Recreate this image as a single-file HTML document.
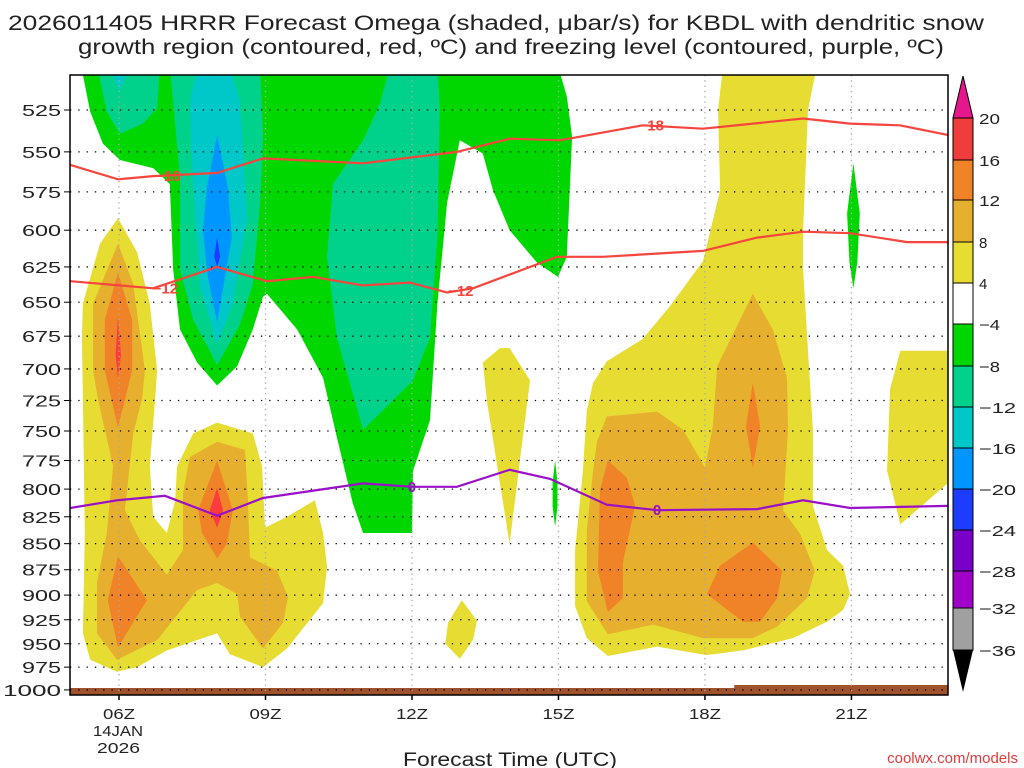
<!DOCTYPE html>
<html><head><meta charset="utf-8"><style>
html,body{margin:0;padding:0;background:#fff;width:1024px;height:768px;overflow:hidden}
svg text{font-family:"Liberation Sans",sans-serif}
</style></head><body>
<svg id="chart" width="1024" height="768" viewBox="0 0 1024 768" xmlns="http://www.w3.org/2000/svg">
<defs><clipPath id="plotclip"><rect x="70" y="75" width="878" height="620"/></clipPath></defs>
<text x="8" y="30" font-size="21" textLength="976" lengthAdjust="spacingAndGlyphs" fill="#222">2026011405 HRRR Forecast Omega (shaded, μbar/s) for KBDL with dendritic snow</text>
<text x="78" y="54" font-size="21" textLength="866" lengthAdjust="spacingAndGlyphs" fill="#222">growth region (contoured, red, ºC) and freezing level (contoured, purple, ºC)</text>
<g id="shading" clip-path="url(#plotclip)"></g>
<g id="grid"></g>
<g id="lines" clip-path="url(#plotclip)"></g>
<g id="axes"></g>
<g id="cbar"></g>
<text x="403" y="766" font-size="19" textLength="214" lengthAdjust="spacingAndGlyphs" fill="#222">Forecast Time (UTC)</text>
<text x="1018" y="763" font-size="15" text-anchor="end" fill="#e03c3c">coolwx.com/models</text>
</svg>
<script>
const NS="http://www.w3.org/2000/svg";
// axes data
const xTickHours=[6,9,12,15,18,21];
const xTickLabels=["06Z","09Z","12Z","15Z","18Z","21Z"];
const yTicks=[525,550,575,600,625,650,675,700,725,750,775,800,825,850,875,900,925,950,975,1000];
const cbarLevels=[20,16,12,8,4,-4,-8,-12,-16,-20,-24,-28,-32,-36];
const cbarColors=["#f03c3c","#f08228","#e6af2d","#e6dc32","#ffffff","#00d700","#00d28c","#00c8c8","#0096ff","#1e3cff","#7800c8","#a000c8","#a0a0a0"];
// shaded omega regions: [hour, mb]
const greenMain=[[5.2,500],[5.26,505],[5.41,526],[5.67,545],[6.02,555],[6.70,560],[7.04,570],[7.11,627],[7.25,670],[7.60,695],[8.01,713],[8.42,698],[8.74,670],[8.95,646],[9.03,644],[9.65,670],[10.18,707],[10.46,755],[10.79,813],[11.0,840],[12.0,840],[12.02,784],[12.37,741],[12.52,651],[12.72,582],[12.98,543],[13.45,551],[13.66,574],[14.0,600],[14.56,622],[14.99,632],[15.17,618],[15.28,541],[15.17,517],[14.99,500]];
const green15=[[14.93,775],[14.98,794],[14.98,816],[14.93,834],[14.88,816],[14.88,794]];
const green21=[[21.04,557],[21.17,589],[21.12,622],[21.04,640],[20.96,622],[20.91,589]];
const teal1=[[5.55,500],[5.75,526],[6.02,539],[6.49,533],[6.78,524],[6.84,500]];
const teal2=[[7.04,500],[7.11,521],[7.25,566],[7.25,627],[7.52,663],[8.01,697],[8.48,666],[8.74,637],[8.89,582],[8.95,541],[8.89,500]];
const teal3=[[11.55,500],[11.35,521],[11.0,543],[10.38,570],[10.26,618],[10.46,676],[11.0,749],[12.02,709],[12.37,676],[12.52,605],[12.57,525],[12.52,500]];
const cyan1=[[5.8,500],[6.0,514],[6.25,500]];
const cyan2=[[7.6,500],[7.45,521],[7.52,572],[7.66,639],[8.01,681],[8.33,651],[8.62,593],[8.48,521],[8.27,500]];
const blue1=[[8.01,540],[7.8,572],[7.72,600],[7.82,632],[8.01,665],[8.17,632],[8.31,605],[8.23,572]];
const dblue1=[[8.01,605],[7.95,618],[8.01,625],[8.07,618]];
const yelLeft=[[5.98,592],[5.61,609],[5.26,651],[5.24,676],[5.26,724],[5.30,840],[5.26,939],[5.41,967],[5.96,980],[6.37,975],[6.98,957],[8.01,939],[8.27,961],[8.95,975],[9.44,955],[10.18,908],[10.26,872],[10.18,840],[10.01,810],[9.44,825],[8.99,835],[8.93,780],[8.74,752],[8.01,743],[7.52,752],[7.19,780],[7.15,810],[6.98,840],[6.70,825],[6.63,780],[6.74,724],[6.78,701],[6.63,651],[6.37,615]];
const yelMid=[[13.45,695],[13.8,684],[14.0,684],[14.42,709],[14.27,755],[14.0,850],[13.54,727]];
const yelSmall=[[13.02,905],[13.33,926],[13.25,946],[12.98,966],[12.68,950],[12.74,928]];
const yelRight=[[18.37,500],[20.29,500],[20.11,525],[20.01,600],[20.01,627],[20.11,686],[20.21,749],[20.21,815],[20.5,856],[20.83,871],[20.97,899],[20.83,915],[20.5,927],[19.8,944],[18.78,957],[18.04,962],[17.02,953],[16.01,963],[15.58,944],[15.34,911],[15.34,856],[15.5,784],[15.58,733],[15.71,711],[15.99,694],[16.73,677],[17.28,653],[17.96,621],[18.04,610],[18.31,574],[18.27,525]];
const yelFar=[[22.0,686],[23.1,686],[23.1,790],[22.0,832],[21.73,784],[21.79,716]];
const goldLeft=[[5.98,609],[5.47,651],[5.47,701],[5.57,724],[5.88,780],[5.75,840],[5.55,888],[5.55,939],[5.96,967],[6.78,946],[7.6,895],[8.01,888],[8.42,899],[8.48,922],[8.95,955],[9.36,928],[9.46,902],[9.24,876],[8.68,863],[8.64,810],[8.58,766],[8.01,759],[7.45,772],[7.31,804],[7.31,856],[6.98,880],[6.43,847],[6.12,819],[6.29,752],[6.47,724],[6.53,701],[6.29,637]];
const goldRight=[[15.99,738],[17.02,734],[17.55,749],[18.0,781],[18.16,746],[18.25,698],[18.98,644],[19.39,670],[19.68,707],[19.7,749],[19.6,819],[19.95,841],[20.25,876],[20.09,903],[19.48,932],[18.98,944],[17.96,944],[16.94,930],[16.01,940],[15.58,906],[15.58,837],[15.71,784],[15.79,759]];
const orgL1=[[5.98,629],[5.71,663],[5.71,701],[5.98,747],[6.27,701],[6.27,663]];
const orgL2=[[5.98,862],[6.57,905],[5.98,954],[5.77,905]];
const orgC=[[8.01,775],[8.33,819],[8.21,850],[8.01,864],[7.7,840],[7.62,819]];
const orgR1=[[16.01,775],[16.4,790],[16.57,815],[16.32,868],[16.32,903],[16.01,917],[15.81,876],[15.85,801]];
const orgR2=[[18.98,849],[19.58,876],[19.48,903],[19.13,927],[18.78,927],[18.04,899],[18.31,871]];
const orgR3=[[18.98,711],[19.13,746],[18.98,781],[18.84,746]];
const redL=[[5.98,661],[5.93,689],[5.98,707],[6.04,689]];
const redC=[[8.01,799],[8.13,819],[8.01,835],[7.86,819]];
// contour lines
const m18Hours=[5.0,5.98,6.70,8.01,8.95,11.0,12.92,14.0,15.03,16.73,17.96,20.01,20.97,21.99,23.02];
const m18Press=[558,567,565,563,554,557,550,542,543,534,536,530,533,534,540];
const m12Hours=[5.0,6.70,8.01,9.03,9.97,11.0,11.96,12.72,13.25,14.97,15.91,17.96,19.07,20.01,20.97,22.14,23.02];
const m12Press=[635,640,625,635,632,638,636,643,640,618,618,614,605,601,602,608,608];
const zeroHours=[5.0,5.96,6.94,8.01,8.95,11.0,12.0,12.92,14.0,14.83,15.99,17.02,19.07,20.01,20.97,23.02];
const zeroPress=[817,810,806,824,808,795,798,798,783,791,814,819,818,810,817,815];

const X0=70,X1=948,Y0=75,Y1=695;
function xs(h){return 119+(h-6)*48.83;}
function ys(p){return 110+900*Math.log(p/525);}
function mk(tag,attrs,parent){const e=document.createElementNS(NS,tag);for(const k in attrs)e.setAttribute(k,attrs[k]);parent.appendChild(e);return e;}

const shading=document.getElementById('shading');
const regions=[
 ["green-region-main",greenMain,"#00d700"],["green-region-15z",green15,"#00d700"],["green-region-21z",green21,"#00d700"],
 ["teal-region-1",teal1,"#00d28c"],["teal-region-2",teal2,"#00d28c"],["teal-region-3",teal3,"#00d28c"],
 ["cyan-region-1",cyan1,"#00c8c8"],["cyan-region-2",cyan2,"#00c8c8"],
 ["blue-region",blue1,"#0096ff"],["dark-blue-region",dblue1,"#1e3cff"],
 ["yellow-region-left",yelLeft,"#e6dc32"],["yellow-region-mid",yelMid,"#e6dc32"],["yellow-region-small",yelSmall,"#e6dc32"],["yellow-region-right",yelRight,"#e6dc32"],["yellow-region-far",yelFar,"#e6dc32"],
 ["gold-region-left",goldLeft,"#e6af2d"],["gold-region-right",goldRight,"#e6af2d"],
 ["orange-region-1",orgL1,"#f08228"],["orange-region-2",orgL2,"#f08228"],["orange-region-3",orgC,"#f08228"],["orange-region-4",orgR1,"#f08228"],["orange-region-5",orgR2,"#f08228"],["orange-region-6",orgR3,"#f08228"],
 ["red-region-1",redL,"#fa3c3c"],["red-region-2",redC,"#fa3c3c"]
];
regions.forEach(r=>{
 const el=mk('polygon',{points:r[1].map(d=>xs(d[0]).toFixed(1)+','+ys(d[1]).toFixed(1)).join(' '),fill:r[2]},shading);
 
 
});
// ground
const g1=mk('rect',{x:X0,y:688,width:X1-X0,height:7,fill:"#a0522d"},shading);


const g2=mk('rect',{x:xs(18.6),y:685,width:X1-xs(18.6),height:10,fill:"#a0522d"},shading);



// grid
const grid=document.getElementById('grid');
yTicks.forEach(p=>{
 const l=mk('line',{x1:X0,x2:X1,y1:ys(p),y2:ys(p),stroke:"#000","stroke-width":1.3,"stroke-dasharray":"1.3 7"},grid);
 
 
});
xTickHours.forEach(h=>{
 const l=mk('line',{x1:xs(h),x2:xs(h),y1:Y0,y2:Y1,stroke:"#aaa","stroke-width":1.3,"stroke-dasharray":"1.3 4"},grid);
 
 
});

// contour lines
const lines=document.getElementById('lines');
function drawLine(name,hs,ps,color){
 const pts=hs.map((h,i)=>xs(h).toFixed(1)+','+ys(ps[i]).toFixed(1)).join(' ');
 const el=mk('polyline',{points:pts,fill:"none",stroke:color,"stroke-width":2.2},lines);
 
 
}
drawLine('contour-minus18',m18Hours,m18Press,"#f5453c");
drawLine('contour-minus12',m12Hours,m12Press,"#f5453c");
drawLine('freezing-level-0',zeroHours,zeroPress,"#9a10c8");
function label(txt,h,p,color){
 const t=mk('text',{x:xs(h),y:ys(p)+5,"font-size":15,"font-weight":"bold","text-anchor":"middle",fill:color},lines);
 t.textContent=txt;
 
 
}
label("−18",7.0,565,"#f5453c");label("−18",16.9,534,"#f5453c");
label("−12",6.95,640,"#f5453c");label("−12",13.0,642,"#f5453c");
label("0",12.0,798,"#9a10c8");label("0",17.02,819,"#9a10c8");

// axes
const axes=document.getElementById('axes');
const fr=mk('rect',{x:X0,y:Y0,width:X1-X0,height:Y1-Y0,fill:"none",stroke:"#000","stroke-width":1.5},axes);


yTicks.forEach(p=>{
 const s=String(p);
 const w=s.length===4?58:39;
 const tk=mk('line',{x1:64,x2:70,y1:ys(p),y2:ys(p),stroke:"#000","stroke-width":1},axes);
 
 
 const t=mk('text',{x:61-w,y:ys(p)+6,"font-size":16,textLength:w,lengthAdjust:"spacingAndGlyphs",fill:"#222"},axes);
 t.textContent=s;
 
 
});
xTickHours.forEach((h,i)=>{
 const tk=mk('line',{x1:xs(h),x2:xs(h),y1:Y1,y2:Y1+5,stroke:"#000","stroke-width":1.5},axes);
 
 
 const t=mk('text',{x:xs(h)-16,y:719,"font-size":15,textLength:32,lengthAdjust:"spacingAndGlyphs",fill:"#222"},axes);
 t.textContent=xTickLabels[i];
 
 
});
const d1=mk('text',{x:xs(6)-26,y:736,"font-size":15,textLength:50,lengthAdjust:"spacingAndGlyphs",fill:"#222"},axes);
d1.textContent="14JAN";


const d2=mk('text',{x:xs(6)-22,y:753,"font-size":15,textLength:43,lengthAdjust:"spacingAndGlyphs",fill:"#222"},axes);
d2.textContent="2026";



// colorbar
const cbar=document.getElementById('cbar');
const cbY=[118,160,200,242,283,324,366,407,448,489,530,571,608,650];
const CX0=953,CX1=973;
for(let i=0;i<cbarColors.length;i++){
 const r=mk('rect',{x:CX0,y:cbY[i],width:CX1-CX0,height:cbY[i+1]-cbY[i],fill:cbarColors[i],stroke:"#000","stroke-width":1},cbar);
 
 
}
const tt=mk('polygon',{points:`${CX0},118 ${CX1},118 ${(CX0+CX1)/2},76`,fill:"#e6168c",stroke:"#000","stroke-width":1},cbar);


const bt=mk('polygon',{points:`${CX0},650 ${CX1},650 ${(CX0+CX1)/2},692`,fill:"#000"},cbar);


cbarLevels.forEach((v,i)=>{
 const s=v<0?"−"+Math.abs(v):String(v);
 const attrs={x:979,y:cbY[i]+6,"font-size":15,fill:"#222"};
 if(s.length>1){attrs.textLength=s.length===3?37:21;attrs.lengthAdjust="spacingAndGlyphs";}
 const t=mk('text',attrs,cbar);
 t.textContent=s;
 
 
});
</script>
</body></html>
